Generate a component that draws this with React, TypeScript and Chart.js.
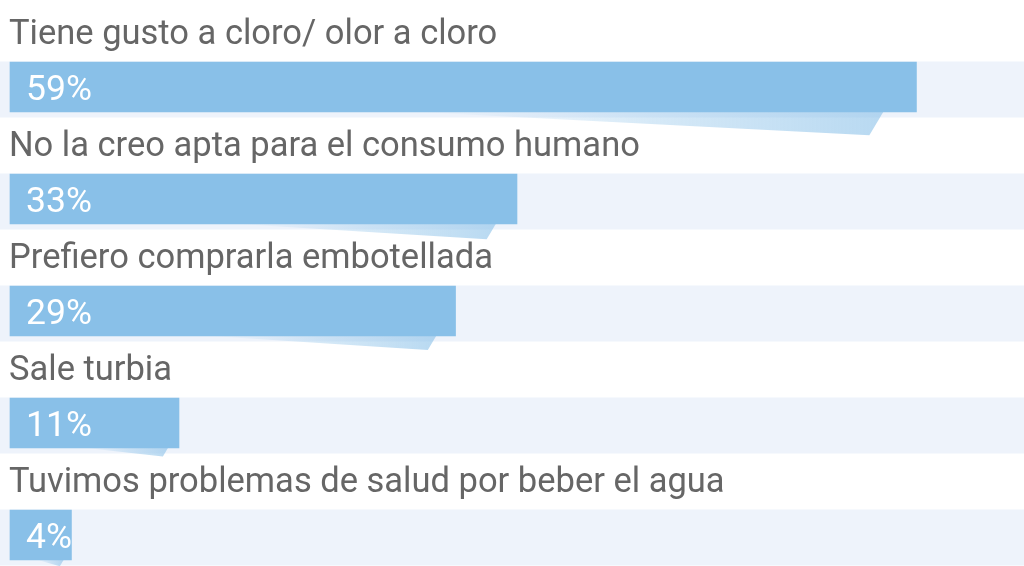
import React, { useEffect, useRef } from "react";
import { Chart, registerables } from "chart.js";

Chart.register(...registerables);

const categories = [
  "Tiene gusto a cloro/ olor a cloro",
  "No la creo apta para el consumo humano",
  "Prefiero comprarla embotellada",
  "Sale turbia",
  "Tuvimos problemas de salud por beber el agua",
];
const values = [59, 33, 29, 11, 4];
const valueLabels = ["59%", "33%", "29%", "11%", "4%"];

const BAR_COLOR = "#89c0e8";
const BAND_COLOR = "#eef3fb";
const LABEL_COLOR = "#666666";

const decorPlugin = {
  id: "decor",
  beforeDatasetsDraw(chart: any) {
    const ctx = chart.ctx;
    const meta = chart.getDatasetMeta(0);
    ctx.save();
    meta.data.forEach((bar: any) => {
      const { y } = bar.getProps(["y"], true);
      ctx.fillStyle = BAND_COLOR;
      ctx.fillRect(0, y - 25.5, chart.width, 56);
    });
    meta.data.forEach((bar: any) => {
      const { x, y, base, height } = bar.getProps(["x", "y", "base", "height"], true);
      const w = x - base;
      const bottom = y + height / 2;
      const rightTop = x - (0.03 * w + 6);
      const tip = rightTop - (0.012 * w + 3);
      const depth = 0.02 * w + 5;
      const start = base + 0.45 * w;
      const g = ctx.createLinearGradient(start, 0, rightTop, 0);
      g.addColorStop(0, "rgba(137,192,232,0)");
      g.addColorStop(0.5, "rgba(137,192,232,0.35)");
      g.addColorStop(1, "rgba(137,192,232,0.6)");
      ctx.fillStyle = g;
      ctx.beginPath();
      ctx.moveTo(start, bottom);
      ctx.lineTo(rightTop, bottom);
      ctx.lineTo(tip, bottom + depth);
      ctx.closePath();
      ctx.fill();
    });
    ctx.restore();
  },
  afterDatasetsDraw(chart: any) {
    const ctx = chart.ctx;
    const meta = chart.getDatasetMeta(0);
    ctx.save();
    meta.data.forEach((bar: any, i: number) => {
      const { y, base } = bar.getProps(["y", "base"], true);
      ctx.textAlign = "left";
      ctx.textBaseline = "alphabetic";
      ctx.fillStyle = LABEL_COLOR;
      ctx.font = "400 34.5px Roboto";
      ctx.fillText(categories[i], 9, y - 43);
      ctx.fillStyle = "#ffffff";
      ctx.font = "400 35.5px Roboto";
      ctx.fillText(valueLabels[i], base + 16, y + 12.5);
    });
    ctx.restore();
  },
};

export default function App() {
  const ref = useRef<HTMLCanvasElement | null>(null);
  useEffect(() => {
    if (!ref.current) return;
    const chart = new Chart(ref.current, {
      type: "bar",
      data: {
        labels: categories,
        datasets: [
          {
            data: values,
            backgroundColor: BAR_COLOR,
            borderWidth: 0,
            barThickness: 50,
            clip: false as any,
          },
        ],
      },
      options: {
        indexAxis: "y",
        animation: false,
        responsive: true,
        maintainAspectRatio: false,
        layout: { padding: { top: 87, bottom: 31, left: 0, right: 0 } },
        plugins: { legend: { display: false }, tooltip: { enabled: false } },
        scales: {
          x: { type: "linear", display: false, min: -0.65, max: 66 },
          y: { type: "category", display: false, offset: false, grid: { offset: false } },
        },
      },
      plugins: [decorPlugin],
    });
    return () => chart.destroy();
  }, []);
  return (
    <div style={{ position: "absolute", left: 0, top: 0, width: 1024, height: 566 }}>
      <canvas ref={ref} />
    </div>
  );
}
